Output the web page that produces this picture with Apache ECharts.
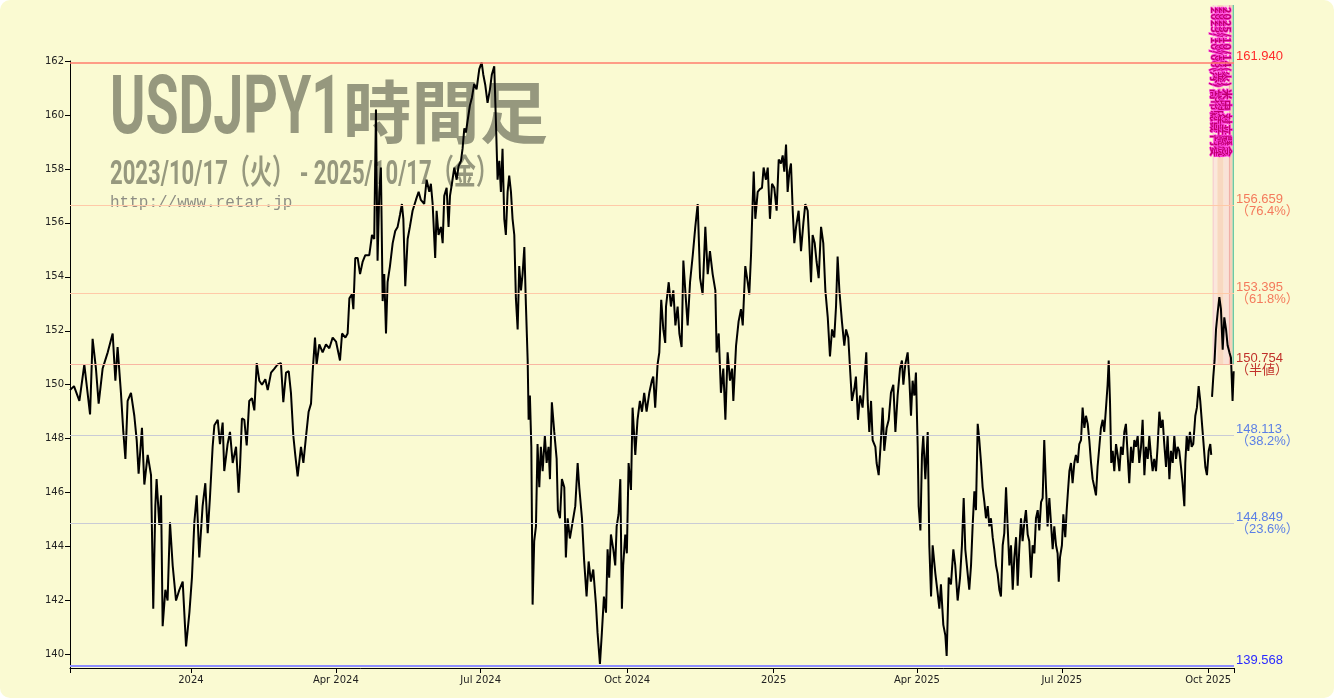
<!DOCTYPE html>
<html>
<head>
<meta charset="utf-8">
<script src="https://cdn.jsdelivr.net/npm/echarts@6/dist/echarts.min.js"></script>
<style>
  html, body { margin: 0; padding: 0; background: #ffffff; }
  #chart { width: 1334px; height: 698px; background: #fafad2; border-radius: 10px; overflow: hidden; }
</style>
</head>
<body>
<div id="chart"></div>
<script>
// 日数は 2023/10/17 からの経過日数、値は USDJPY（チャートから読み取り）
const dayOffsets = [
  0, 2.5, 5.9, 9.0, 12.6, 14.2, 16.3, 18.0, 20.5, 23.7, 26.8, 28.5, 29.9, 32.0, 33.5, 34.8, 36.2, 38.3, 40.4, 41.9,
  43.1, 45.2, 46.7, 48.8, 50.9, 52.3, 53.6, 54.4, 56.1, 57.2, 58.2, 59.9, 61.3, 62.8, 64.5, 66.6, 68.7, 70.8, 72.9, 75.0,
  76.6, 78.1, 79.6, 81.2, 83.3, 85.0, 86.5, 87.9, 89.6, 90.7, 92.8, 94.2, 95.9, 96.9, 99.0, 100.5, 102.2, 104.3, 105.9, 106.8,
  108.0, 109.5, 111.0, 112.6, 114.3, 115.8, 117.3, 118.9, 120.6, 122.7, 124.2, 126.3, 128.4, 130.4, 132.5, 134.0, 135.7, 137.4, 138.8, 140.3,
  141.5, 143.0, 145.1, 146.6, 148.2, 149.9, 151.4, 152.4, 153.9, 154.9, 156.6, 158.7, 160.8, 162.9, 165.0, 167.1, 169.6, 170.9, 173.0, 174.4,
  175.5, 177.1, 178.0, 179.2, 180.7, 182.2, 183.8, 185.5,
  185.9, 188.0, 189.7, 191.1, 192.2, 193.2, 194.3, 195.3, 196.4, 197.4, 198.5, 199.5, 201.0, 202.7, 204.3, 205.8, 207.3, 208.5, 209.4, 210.6,
  212.1, 213.5, 215.2, 217.3, 219.0, 220.4, 222.5, 224.0, 225.7, 226.7, 227.8, 229.4, 230.3, 231.5, 233.0, 234.1, 235.1, 236.6, 237.8, 238.7,
  239.9, 241.4, 242.9, 244.1, 245.6, 246.6, 247.7, 248.7, 249.8, 251.2, 252.5, 253.9, 255.4, 257.1, 258.6, 259.6, 260.9, 262.3, 263.8, 265.0,
  266.5, 267.6, 268.6, 269.7, 270.7, 271.7, 272.8, 273.8, 274.9, 275.9, 277.0, 278.0, 279.1, 280.1, 281.2, 282.2, 283.3, 284.3, 285.4, 286.4,
  287.5, 288.1, 288.9, 289.8, 290.6, 291.6, 292.7, 293.7, 294.8, 295.8, 296.9, 298.3, 299.4, 300.6, 301.5, 302.7, 304.2, 305.7, 306.5, 307.8,
  309.0, 310.5, 311.5, 312.6, 314.0, 315.7, 317.4, 318.9, 319.9, 321.6, 323.0, 324.5, 325.8, 327.2, 328.7, 330.4, 331.4, 332.9, 334.1, 335.4,
  336.7, 337.7, 338.7, 339.8, 341.3, 342.5, 343.4, 344.6, 345.7, 346.7, 347.5, 348.8, 349.8, 350.9, 352.4, 353.4, 355.1, 356.5, 358.0, 359.3,
  360.7, 362.2, 363.9, 365.5, 366.4, 367.6, 369.1, 370.2, 371.4, 372.7, 373.9,
  374.4, 376.1, 377.5, 379.0, 380.3, 381.7, 382.8, 384.2, 385.3, 386.5, 388.0, 389.5, 391.2, 392.8, 394.3, 395.8, 397.4, 399.1, 400.6, 402.0,
  403.7, 405.4, 406.2, 407.5, 408.9, 410.4, 411.7, 413.1, 414.6, 415.9, 416.7, 418.4, 420.0, 421.5, 422.6, 424.2, 425.7, 426.7, 427.8, 428.8,
  429.5, 430.5, 432.0, 433.4, 434.7, 435.7, 437.2, 438.3, 439.7, 441.0, 442.4, 443.9, 445.2, 446.6, 447.7, 448.7, 449.8, 450.8, 451.9, 452.9,
  454.0, 455.0, 456.1, 457.7, 459.2, 460.7, 461.9, 463.4, 464.4, 465.5, 466.5, 467.8, 469.0, 470.3, 471.8, 473.2, 474.5, 476.0, 477.4, 478.7,
  480.1, 481.2, 482.2, 483.3, 484.9, 486.4, 487.5, 488.9, 490.0, 491.2, 492.7, 493.7, 495.0, 496.3, 497.9, 499.2, 500.2, 501.1, 502.1, 503.2,
  504.2, 505.9, 506.7, 508.0, 509.4, 510.5, 511.5, 513.0, 514.3, 515.7, 517.2, 518.5, 519.9, 521.4, 522.6, 523.5, 524.7, 526.2, 527.3, 528.3,
  529.3, 530.4, 531.4, 532.5, 533.1, 534.2, 535.2, 536.0, 537.3, 538.8, 539.8, 540.9, 541.9, 543.6, 545.0, 546.1, 547.1, 548.6, 549.9, 550.7,
  552.0, 553.4, 554.9, 556.1, 557.6, 559.1, 560.3, 561.4, 562.4,
  564.9, 566.0, 567.0, 568.1, 569.1, 570.2, 571.2, 572.3, 573.3, 574.4, 575.4, 576.5, 577.5, 578.5, 579.6, 580.6, 581.7, 582.7, 583.8, 584.8,
  585.9, 586.9, 588.0, 589.0, 590.1, 591.1, 592.2, 593.2, 594.3, 595.3, 596.3, 597.4, 598.4, 599.5, 600.5, 601.6, 602.6, 603.7, 604.7, 605.8,
  606.8, 607.9, 608.9, 610.0, 611.0, 612.0, 613.1, 614.1, 615.2, 616.2, 617.3, 618.3, 619.4, 620.4, 621.1, 621.9, 623.1, 624.0, 625.2, 626.1,
  626.9, 627.8, 628.8, 629.8, 630.9, 631.9, 633.0, 634.0, 635.1, 636.1, 637.2, 638.2, 639.3, 640.3, 641.4, 642.4, 643.5, 644.5, 645.5, 646.6,
  647.6, 648.7, 649.7, 650.8, 651.8, 652.5, 653.3, 654.1, 655.0, 656.0, 657.1, 658.1, 659.2, 660.2, 661.3, 662.3, 663.3, 664.4, 665.4, 666.5,
  667.5, 668.6, 669.6, 670.7, 671.7, 672.8, 673.8, 674.9, 675.9, 677.0, 678.0, 679.0, 680.1, 681.1, 682.2, 683.2, 684.3, 685.3, 686.4, 687.4,
  688.5, 689.5, 690.6, 691.6, 692.7, 693.7, 694.8, 695.8, 696.8, 697.9, 698.9, 700.0, 700.6, 701.5, 702.5, 703.5, 704.6, 705.6, 706.9, 707.9,
  709.0, 710.0, 711.1, 712.1, 713.2, 714.2, 715.3, 716.3, 716.9, 717.1,
  717.4, 718.2, 719.0, 719.9, 720.9, 722.0, 723.0, 724.1, 725.1, 726.2, 727.2, 728.3, 729.3, 730.3, 731.0
];
const rates = [
  149.8, 149.95, 149.4, 150.75, 148.9, 151.7, 150.6, 149.3, 150.6, 151.2, 151.9, 150.15, 151.4, 149.7, 148.25, 147.25, 149.4, 149.7, 148.85, 147.95,
  146.7, 148.4, 146.3, 147.4, 146.65, 141.7, 145.5, 146.5, 144.8, 145.9, 141.05, 142.4, 142.0, 144.9, 143.3, 142.0, 142.4, 142.7, 140.3, 141.55,
  142.85, 144.9, 145.9, 143.6, 145.5, 146.35, 144.5, 145.8, 147.7, 148.5, 148.7, 147.8, 148.6, 146.8, 147.8, 148.25, 147.1, 147.7, 146.0, 146.95,
  148.75, 148.7, 147.75, 149.4, 149.5, 149.05, 150.8, 150.15, 150.0, 150.2, 149.8, 150.45, 150.6, 150.75, 150.8, 149.35, 150.45, 150.5, 149.7, 148.1,
  147.4, 146.6, 147.7, 147.1, 148.05, 149.0, 149.3, 150.45, 151.75, 150.75, 151.5, 151.2, 151.5, 151.35, 151.75, 151.6, 150.9, 151.9, 151.75, 151.9,
  153.2, 153.35, 152.8, 154.7, 154.7, 154.1, 154.55, 154.8,
  154.75, 154.8, 155.55, 155.4, 160.2, 154.6, 157.15, 158.05, 153.1, 154.1, 151.9, 153.8, 154.4, 155.25, 155.7, 155.85, 156.3, 156.7, 156.15, 153.65,
  155.4, 155.85, 156.45, 156.85, 157.15, 156.85, 156.7, 157.6, 157.15, 157.45, 156.7, 154.7, 156.45, 155.55, 155.85, 155.25, 157.0, 157.3, 155.85, 157.0,
  157.45, 158.05, 157.6, 158.1, 158.3, 158.75, 159.5, 159.35, 159.8, 160.35, 160.65, 161.15, 160.95, 161.7, 161.95, 161.5, 161.1, 160.45, 160.95, 161.5,
  161.8, 159.65, 157.6, 158.3, 157.15, 158.75, 156.15, 155.55, 157.15, 157.75, 157.15, 156.15, 155.55, 153.2, 152.05, 154.4, 153.5, 154.1, 155.1, 152.95,
  150.9, 148.7, 149.6, 147.7, 141.85, 144.2, 144.75, 147.8, 146.2, 147.7, 146.8, 148.1, 147.1, 147.7, 146.5, 149.35, 148.25, 147.25, 145.35, 145.05,
  146.5, 146.2, 143.6, 145.05, 144.3, 144.9, 145.5, 147.1, 146.2, 145.05, 143.45, 142.15, 143.45, 142.7, 143.15, 141.85, 140.8, 139.65, 140.8, 142.15,
  141.55, 143.9, 142.85, 144.45, 143.9, 143.3, 144.75, 145.2, 146.5, 141.7, 143.3, 144.45, 143.75, 147.1, 146.1, 149.15, 147.4, 148.7, 149.4, 149.0,
  149.7, 149.0, 149.7, 150.15, 150.3, 149.15, 150.75, 151.2, 153.15, 152.05, 151.55,
  152.9, 153.8, 152.9, 153.5, 152.2, 152.9, 151.9, 151.4, 154.6, 153.5, 152.2, 153.8, 154.8, 155.85, 156.7, 153.95, 153.35, 155.85, 154.1, 154.95,
  154.1, 153.5, 151.2, 151.9, 149.7, 150.6, 148.7, 151.2, 150.15, 150.6, 149.4, 151.45, 152.35, 152.8, 152.2, 154.4, 153.8, 153.35, 154.8, 156.7,
  157.9, 156.15, 157.15, 157.25, 157.3, 158.05, 157.6, 158.05, 156.15, 157.45, 157.3, 156.45, 158.35, 158.2, 158.5, 157.9, 158.9, 157.15, 157.9, 158.2,
  156.45, 155.25, 155.85, 156.45, 154.95, 156.0, 156.7, 156.45, 155.25, 153.8, 155.55, 155.25, 154.55, 153.95, 155.85, 155.25, 153.5, 152.5, 151.05, 152.05,
  151.75, 152.9, 154.75, 153.5, 152.35, 151.45, 152.05, 151.75, 150.6, 149.4, 149.85, 150.3, 148.7, 149.6, 149.15, 150.3, 151.2, 149.4, 148.25, 149.4,
  147.95, 147.7, 147.1, 146.65, 147.95, 149.15, 147.55, 148.4, 148.7, 149.7, 150.0, 148.25, 149.6, 150.6, 150.9, 150.0, 150.75, 151.2, 150.15, 148.85,
  150.15, 149.6, 150.45, 147.7, 145.5, 144.6, 147.4, 148.1, 146.5, 148.25, 144.05, 142.15, 144.05, 143.0, 142.3, 141.7, 142.6, 141.1, 140.7, 139.95,
  142.85, 142.6, 143.9, 143.3, 142.0, 142.85, 144.05, 145.8, 143.9,
  142.4, 143.3, 144.75, 146.05, 145.35, 148.55, 147.95, 147.1, 146.2, 145.65, 145.05, 145.5, 144.75, 145.05, 144.35, 143.9, 143.3, 143.0, 142.4, 142.15,
  144.05, 144.5, 146.2, 144.75, 143.3, 144.05, 142.4, 143.6, 144.35, 142.55, 143.9, 145.05, 144.2, 144.9, 145.35, 144.45, 144.2, 142.85, 144.05, 143.75,
  145.05, 145.35, 144.6, 145.65, 145.8, 147.95, 146.2, 144.75, 145.8, 144.9, 143.9, 144.75, 144.05, 143.75, 142.7, 143.6, 144.05, 145.2, 144.35, 145.35,
  146.05, 146.8, 147.1, 146.35, 147.1, 147.4, 147.1, 147.8, 147.95, 149.15, 148.4, 148.85, 148.55, 147.95, 147.1, 146.5, 146.2, 145.9, 146.95, 147.7,
  148.4, 148.7, 148.25, 149.15, 150.0, 150.9, 149.4, 147.1, 147.55, 146.8, 147.8, 147.4, 146.8, 147.7, 147.4, 148.25, 148.55, 147.4, 146.35, 147.7,
  147.1, 147.95, 147.7, 148.1, 147.1, 147.7, 148.7, 146.65, 147.7, 147.25, 148.1, 147.4, 146.8, 147.25, 146.8, 147.7, 149.0, 148.4, 148.7, 147.8,
  146.95, 148.1, 146.5, 147.55, 147.1, 148.1, 147.25, 147.7, 147.55, 146.95, 146.35, 145.5, 147.1, 148.1, 147.55, 148.25, 147.7, 147.8, 148.85, 149.15,
  149.95, 149.4, 148.55, 147.8, 146.95, 146.65, 147.55, 147.8, 147.4, null,
  149.55, 150.3, 150.9, 152.05, 152.65, 153.25, 152.8, 151.3, 152.5, 152.05, 151.45, 151.2, 151.0, 149.4, 150.5
];

// フィボナッチ水準
const fiboLevels = [161.940, 156.659, 153.395, 150.754, 148.113, 144.849, 139.568];
const fiboNotes = [' ', '（76.4%）', '（61.8%）', '（半値）', '（38.2%）', '（23.6%）', ' '];
const fiboTextColors = ['#ff2a2a', '#f47a5c', '#f47a5c', '#c0302a', '#5b7fe6', '#5b7fe6', '#2a2aff'];
const fiboLineColors = ['#ff7c6c', '#ffc9a8', '#ffc9a8', '#f8b6a2', '#c9cbd6', '#c9cbd6', '#8e8eff'];
const fiboLineWidths = [1.5, 1, 1, 1, 1, 1, 2];

const yTicks = [140, 142, 144, 146, 148, 150, 152, 154, 156, 158, 160, 162];
const monthTicks = [[2024, 0], [2024, 3], [2024, 6], [2024, 9], [2025, 0], [2025, 3], [2025, 6], [2025, 9]];
const monthNames = ['Jan', 'Feb', 'Mar', 'Apr', 'May', 'Jun', 'Jul', 'Aug', 'Sep', 'Oct', 'Nov', 'Dec'];

// 右上のイベント帯（日数）
const eventBands = [[717.8, 718.5], [718.5, 720.8], [720.8, 724.6], [724.6, 728.0], [728.0, 728.7], [728.7, 730.2], [730.3, 731.2]];
const eventBandColors = ['#f4b8d0', '#fbe2de', '#f8d0bc', '#f9dcd8', '#ee9c9c', '#f5c4b4', '#5cc2a0'];
const eventNotes = [
  '2025/10/06(月) 高市総裁 円安',
  '2025/10/08(水) 153円台 到達',
  '2025/10/10(金) 公明 連立離脱',
  '2025/10/14(火) 米中 対立懸念'
];
const noteDays = [718.9, 721.4, 724.2, 726.9];

const DAY = 86400000;
const t0 = new Date(2023, 9, 17).getTime();
const tEnd = t0 + 731.2 * DAY;
const seriesData = dayOffsets.map((d, i) => [t0 + d * DAY, rates[i] === null ? '-' : rates[i]]);
const tickTimes = monthTicks.map(m => new Date(m[0], m[1], 1).getTime());

function fitScale(text, font, width) {
  const ctx = document.createElement('canvas').getContext('2d');
  ctx.font = font;
  return width / ctx.measureText(text).width;
}

const titleFont = 'bold 82px Roboto';
const kanjiFont = 'bold 68px "Noto Sans CJK JP"';
const subFont = 'bold 34px Roboto, "Noto Sans CJK JP"';
const titleLatin = 'USDJPY1';
const titleKanji = '時間足';
const subtitle = '2023/10/17（火） - 2025/10/17（金）';
const watermarkColor = '#96987e';

const chart = echarts.init(document.getElementById('chart'));
const option = {
  animation: false,
  backgroundColor: 'transparent',
  grid: { left: 70, right: 100, top: 61, bottom: 30 },
  xAxis: {
    type: 'value',
    min: t0,
    max: tEnd,
    splitLine: { show: false },
    axisLine: { lineStyle: { color: '#000', width: 1 } },
    axisTick: { length: 5, lineStyle: { color: '#000' }, customValues: [t0].concat(tickTimes, [tEnd]) },
    axisLabel: {
      customValues: tickTimes,
      color: '#222',
      fontSize: 10,
      fontFamily: 'DejaVu Sans',
      margin: 7,
      formatter: function (v) {
        const d = new Date(v);
        return d.getMonth() === 0 ? String(d.getFullYear()) : monthNames[d.getMonth()] + ' ' + d.getFullYear();
      }
    }
  },
  yAxis: {
    type: 'value',
    min: 139.5,
    max: 162,
    splitLine: { show: false },
    axisLine: { show: true, lineStyle: { color: '#000', width: 1 } },
    axisTick: { show: true, length: 5, lineStyle: { color: '#000' }, customValues: yTicks },
    axisLabel: { customValues: yTicks, color: '#222', fontSize: 10, fontFamily: 'DejaVu Sans', margin: 6 }
  },
  graphic: [
    {
      id: 'titleLatin', type: 'text', x: 110, y: 112, z: 0, silent: true,
      scaleX: fitScale(titleLatin, titleFont, 232), scaleY: 1,
      style: { text: titleLatin, x: 0, y: 0, font: titleFont, fill: watermarkColor, verticalAlign: 'middle', align: 'left' }
    },
    {
      id: 'titleKanji', type: 'text', x: 343, y: 112, z: 0, silent: true,
      scaleX: fitScale(titleKanji, kanjiFont, 205), scaleY: 1,
      style: { text: titleKanji, x: 0, y: 0, font: kanjiFont, fill: watermarkColor, verticalAlign: 'middle', align: 'left' }
    },
    {
      id: 'subtitle', type: 'text', x: 110, y: 175, z: 0, silent: true,
      scaleX: fitScale(subtitle, subFont, 388), scaleY: 1,
      style: { text: subtitle, x: 0, y: 0, font: subFont, fill: watermarkColor, verticalAlign: 'middle', align: 'left' }
    },
    {
      id: 'url', type: 'text', x: 110, y: 203, z: 0, silent: true,
      style: { text: 'http://www.retar.jp', x: 0, y: 0, font: '16px "Liberation Mono"', fill: '#8e8e84', verticalAlign: 'middle', align: 'left' }
    }
  ],
  series: [
    {
      type: 'line',
      data: seriesData,
      showSymbol: false,
      symbol: 'none',
      connectNulls: false,
      z: 3,
      lineStyle: { color: '#000', width: 2 },
      markLine: {
        silent: true,
        symbol: ['none', 'none'],
        animation: false,
        label: { position: 'end', distance: 2, fontSize: 13, lineHeight: 12, fontFamily: '"Liberation Sans", "Noto Sans CJK JP"' },
        data: fiboLevels.map((v, i) => ({
          yAxis: v,
          lineStyle: { color: fiboLineColors[i], width: fiboLineWidths[i], type: 'solid' },
          label: { color: fiboTextColors[i], formatter: v.toFixed(3) + '\n' + fiboNotes[i] }
        }))
      }
    }
  ]
};
chart.setOption(option);

// イベント帯と縦書き注記（軸の座標から位置を算出）
const topY = 5;
const bottomY = chart.convertToPixel({ yAxisIndex: 0 }, 150.754);
const bandGraphics = eventBands.map((b, i) => {
  const x1 = chart.convertToPixel({ xAxisIndex: 0 }, t0 + b[0] * DAY);
  const x2 = chart.convertToPixel({ xAxisIndex: 0 }, t0 + b[1] * DAY);
  return {
    id: 'band' + i, type: 'rect', silent: true, z: 1,
    shape: { x: x1, y: topY, width: Math.max(1, x2 - x1), height: bottomY - topY },
    style: { fill: eventBandColors[i], opacity: i === eventBands.length - 1 ? 0.9 : 0.8 }
  };
});
const noteGraphics = eventNotes.map((t, i) => ({
  id: 'note' + i, type: 'text', silent: true, z: 5,
  x: chart.convertToPixel({ xAxisIndex: 0 }, t0 + noteDays[i] * DAY), y: topY + 2,
  rotation: -Math.PI / 2,
  scaleX: fitScale(t, 'bold 10px "Noto Sans CJK JP"', 150), scaleY: 1,
  style: {
    text: t, x: 0, y: 0, font: 'bold 10px "Noto Sans CJK JP"',
    fill: '#c00070', stroke: '#ff40e0', lineWidth: 1.2,
    align: 'left', verticalAlign: 'middle'
  }
}));
chart.setOption({ graphic: bandGraphics.concat(noteGraphics) });
</script>
</body>
</html>
